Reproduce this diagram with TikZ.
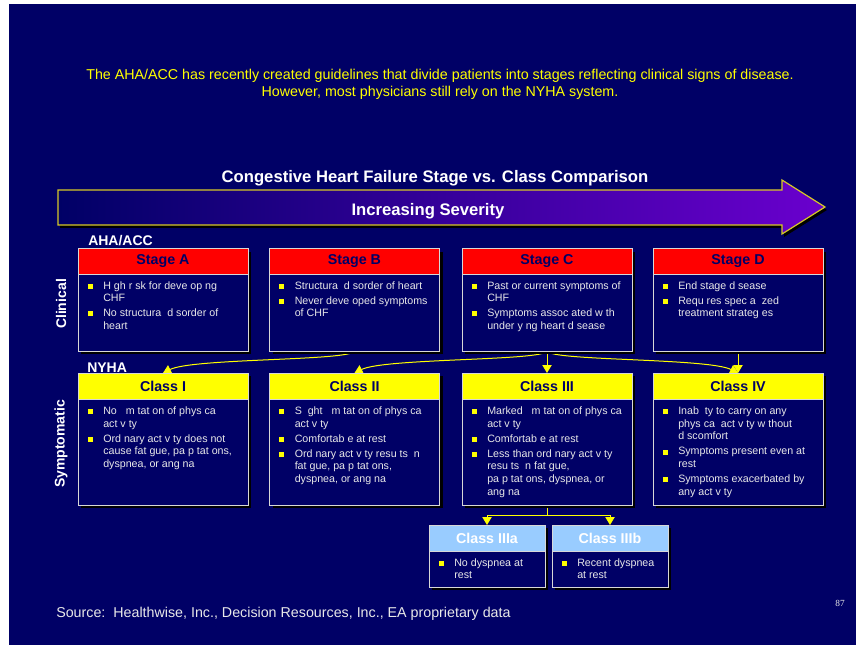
\documentclass[tikz,border=0pt]{standalone}
\usepackage{fontspec}
\setmainfont{Liberation Sans}
\newfontfamily\pagenumfont{Liberation Serif}
\usetikzlibrary{arrows.meta,shadows}

% one slide pixel
\newdimen\upx \upx=0.75pt

\definecolor{slide}{RGB}{0,0,102}
\definecolor{stagered}{RGB}{255,0,0}
\definecolor{classyellow}{RGB}{255,255,0}
\definecolor{subblue}{RGB}{153,204,255}
\definecolor{bodytext}{RGB}{232,232,232}
\definecolor{edge}{RGB}{215,215,215}
\definecolor{linkyellow}{RGB}{255,255,0}
\definecolor{notetext}{RGB}{255,255,0}
\definecolor{arrowleft}{RGB}{0,0,102}
\definecolor{arrowright}{RGB}{106,0,206}
\definecolor{arrowedge}{RGB}{214,200,40}

% yellow square bullet and item spacing
\newcommand\bsq{\makebox[25\upx][l]{\hspace{9.5\upx}\textcolor{classyellow}{\rule[0.4\upx]{5\upx}{5\upx}}}}
\newcommand\nexti{\\[1.7pt]}
\newenvironment{blist}{\fontsize{8}{9.5}\selectfont\color{bodytext}\begin{tabular}{@{}l@{}l@{}}}{\end{tabular}}

\tikzset{
  card/.style={draw=edge, line width=0.75pt, fill=slide, inner sep=0pt,
    drop shadow={shadow xshift=2.25pt, shadow yshift=-2.25pt, fill=black, opacity=1}},
  wide/.style={minimum width=170*0.75pt},
  narrow/.style={minimum width=116*0.75pt},
  hdr/.style={draw=edge, line width=0.75pt, inner sep=0pt, anchor=north,
    font=\fontsize{10.7}{12}\selectfont\bfseries},
  stagehdr/.style={hdr, wide, fill=stagered, text=slide, minimum height=25*0.75pt},
  classhdr/.style={hdr, wide, fill=classyellow, text=slide, minimum height=26*0.75pt},
  subhdr/.style={hdr, narrow, fill=subblue, text=white, minimum height=26*0.75pt},
  body/.style={anchor=north west, inner sep=0pt},
  sidelabel/.style={text=white, rotate=90, font=\fontsize{10.5}{12}\selectfont\bfseries},
  grouplabel/.style={text=white, anchor=west, inner sep=0pt, font=\fontsize{10.5}{12}\selectfont\bfseries},
  link/.style={draw=linkyellow, line width=0.75pt, -{Triangle[width=7pt,length=6pt]}},
  trunk/.style={draw=linkyellow, line width=0.75pt},
}

\begin{document}
\begin{tikzpicture}[x=0.75pt, y=-0.75pt]
\useasboundingbox (0,0) rectangle (856,645);
\fill[white] (0,0) rectangle (856,645);
\fill[slide] (9,4) rectangle (856,645);

% introductory note
\node[text=notetext, align=center, font=\fontsize{10.7}{12.75}\selectfont] (note) at (440,84.5)
  {The AHA/ACC has recently created guidelines that divide patients into stages reflecting clinical signs of disease.\\
   However, most physicians still rely on the NYHA system.};

% heading and severity arrow
\node[text=white, font=\fontsize{12.5}{14}\selectfont\bfseries] (heading) at (435,178)
  {Congestive Heart Failure Stage vs. Class Comparison};
\fill[black] (60,193) -- (784,193) -- (784,183) -- (827,210) -- (784,237) -- (784,228) -- (60,228) -- cycle;
\shade[left color=arrowleft, right color=arrowright]
  (58,190) -- (782,190) -- (782,180) -- (825,207) -- (782,234) -- (782,225) -- (58,225) -- cycle;
\draw[arrowedge, line width=0.9pt, line join=miter]
  (58,190) -- (782,190) -- (782,180) -- (825,207) -- (782,234) -- (782,225) -- (58,225) -- cycle;
\node[text=white, font=\fontsize{12.5}{14}\selectfont\bfseries] (severity) at (428,211) {Increasing Severity};

% group labels
\node[grouplabel] (aha) at (88,241) {AHA/ACC};
\node[grouplabel] (nyha) at (87,368) {NYHA};
\node[sidelabel] (clinical) at (61,304) {Clinical};
\node[sidelabel] (sympt) at (61,444) {Symptomatic};

% connectors
\draw[link] (547,351) .. controls +(-3,10) and +(30,-15) .. (354.5,373);
\draw[link] (354.5,351) .. controls +(-3,10) and +(30,-15) .. (163,373);
\draw[link] (547,351) .. controls +(3,10) and +(-30,-15) .. (738,373);
\draw[link] (547,351) -- (547,373);
\draw[link] (738,351) -- (738,373);
\draw[trunk] (547,505) -- (547,515) coordinate (split);
\draw[link] (split) -| (487,525);
\draw[link] (split) -| (610,525);

% AHA/ACC stages
\node[card, wide, minimum height=102*0.75pt] (sA) at (163,300) {};
\node[card, wide, minimum height=102*0.75pt] (sB) at (354.5,300) {};
\node[card, wide, minimum height=102*0.75pt] (sC) at (547,300) {};
\node[card, wide, minimum height=102*0.75pt] (sD) at (738,300) {};
\node[stagehdr] (sAh) at (sA.north) {Stage A};
\node[stagehdr] (sBh) at (sB.north) {Stage B};
\node[stagehdr] (sCh) at (sC.north) {Stage C};
\node[stagehdr] (sDh) at (sD.north) {Stage D};

\node[body] (sAt) at (78,280) {\begin{blist}
\bsq & H gh r sk for deve op ng\\ & CHF\nexti
\bsq & No structura~ d sorder of\\ & heart
\end{blist}};
\node[body] (sBt) at (269.5,280) {\begin{blist}
\bsq & Structura~ d sorder of heart\nexti
\bsq & Never deve oped symptoms\\ & of CHF
\end{blist}};
\node[body] (sCt) at (462,280) {\begin{blist}
\bsq & Past or current symptoms of\\ & CHF\nexti
\bsq & Symptoms assoc ated w th\\ & under y ng heart d sease
\end{blist}};
\node[body] (sDt) at (653,280) {\begin{blist}
\bsq & End stage d sease\nexti
\bsq & Requ res spec a~ zed\\ & treatment strateg es
\end{blist}};

% NYHA classes
\node[card, wide, minimum height=132*0.75pt] (cI) at (163,439) {};
\node[card, wide, minimum height=132*0.75pt] (cII) at (354.5,439) {};
\node[card, wide, minimum height=132*0.75pt] (cIII) at (547,439) {};
\node[card, wide, minimum height=132*0.75pt] (cIV) at (738,439) {};
\node[classhdr] (cIh) at (cI.north) {Class I};
\node[classhdr] (cIIh) at (cII.north) {Class II};
\node[classhdr] (cIIIh) at (cIII.north) {Class III};
\node[classhdr] (cIVh) at (cIV.north) {Class IV};

\node[body] (cIt) at (78,405.5) {\begin{blist}
\bsq & No~~ m tat on of phys ca\\ & act v ty\nexti
\bsq & Ord nary act v ty does not\\ & cause fat gue, pa p tat ons,\\ & dyspnea, or ang na
\end{blist}};
\node[body] (cIIt) at (269.5,405.5) {\begin{blist}
\bsq & S~ ght~~ m tat on of phys ca\\ & act v ty\nexti
\bsq & Comfortab e at rest\nexti
\bsq & Ord nary act v ty resu ts~ n\\ & fat gue, pa p tat ons,\\ & dyspnea, or ang na
\end{blist}};
\node[body] (cIIIt) at (462,405.5) {\begin{blist}
\bsq & Marked~~ m tat on of phys ca\\ & act v ty\nexti
\bsq & Comfortab e at rest\nexti
\bsq & Less than ord nary act v ty\\ & resu ts~ n fat gue,\\ & pa p tat ons, dyspnea, or\\ & ang na
\end{blist}};
\node[body] (cIVt) at (653,405.5) {\begin{blist}
\bsq & Inab~ ty to carry on any\\ & phys ca~ act v ty w thout\\ & d scomfort\nexti
\bsq & Symptoms present even at\\ & rest\nexti
\bsq & Symptoms exacerbated by\\ & any act v ty
\end{blist}};

% Class III subdivisions
\node[card, narrow, minimum height=62*0.75pt] (c3a) at (487,556) {};
\node[card, narrow, minimum height=62*0.75pt] (c3b) at (610,556) {};
\node[subhdr] (c3ah) at (c3a.north) {Class IIIa};
\node[subhdr] (c3bh) at (c3b.north) {Class IIIb};
\node[body] (c3at) at (429,557) {\begin{blist}
\bsq & No dyspnea at\\ & rest
\end{blist}};
\node[body] (c3bt) at (552,557) {\begin{blist}
\bsq & Recent dyspnea\\ & at rest
\end{blist}};

% footer
\node[text=bodytext, anchor=west, inner sep=0pt, font=\fontsize{10.7}{12}\selectfont] (source) at (56,614)
  {Source:\ \ Healthwise, Inc., Decision Resources, Inc., EA proprietary data};
\node[text=bodytext, font=\pagenumfont\fontsize{7}{8}\selectfont] (pagenum) at (840,603) {87};
\end{tikzpicture}
\end{document}
